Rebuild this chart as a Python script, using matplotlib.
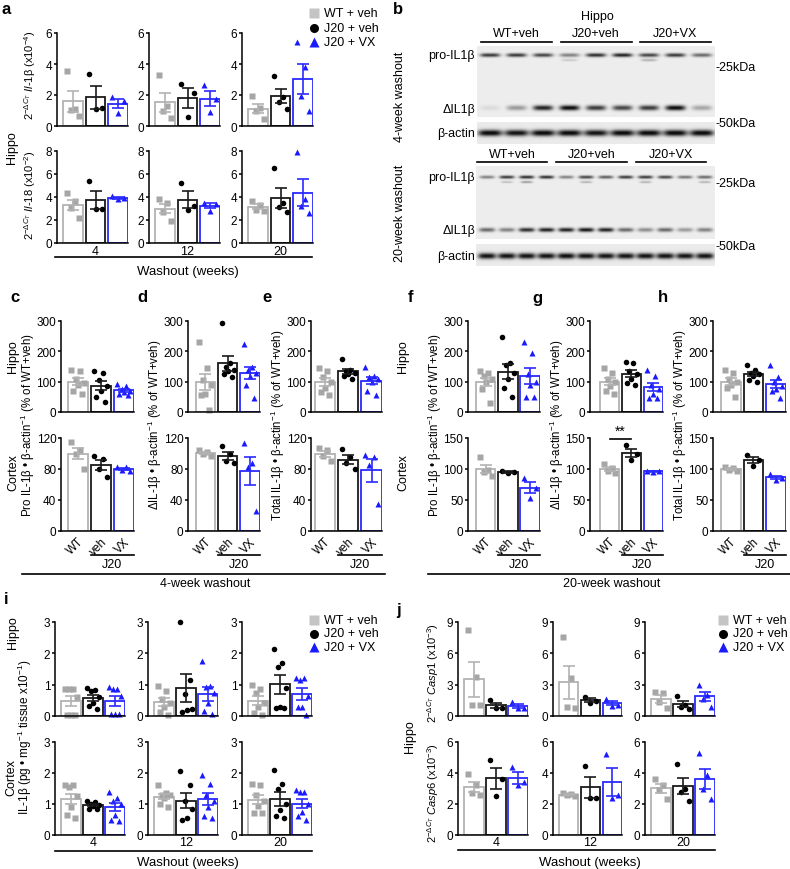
import numpy as np
import matplotlib
matplotlib.use("Agg")
import matplotlib.pyplot as plt
from matplotlib.lines import Line2D
import matplotlib.transforms as mtransforms

plt.rcParams['font.family'] = ['Liberation Sans', 'DejaVu Sans']
plt.rcParams['mathtext.fontset'] = 'custom'
plt.rcParams['mathtext.rm'] = 'Liberation Sans'
plt.rcParams['mathtext.it'] = 'Liberation Sans:italic'
plt.rcParams['mathtext.bf'] = 'Liberation Sans:bold'

W, H = 790, 870

GROUPS = ['WT + veh', 'J20 + veh', 'J20 + VX']
SHORT = ['WT', 'veh', 'VX']
WEEKS = ['4', '12', '20']
POINT_COLORS = ['#a6a6a6', '#000000', '#1a1aff']
EDGE_COLORS = ['#b3b3b3', '#1a1a1a', '#2a2aff']
MARKERS = ['s', 'o', '^']

# ---- panel a: qPCR hippo (4, 12, 20 weeks) ----
qpcr_il1b_wt = [[3.55, 1.1, 1.05, 0.65], [3.29, 1.28, 0.97, 0.54], [1.95, 1.15, 0.95, 0.45]]
qpcr_il1b_j20 = [[3.35, 1.15, 1.1], [2.7, 2.1, 0.6], [3.2, 1.85, 1.55, 1.1]]
qpcr_il1b_vx = [[1.84, 1.64, 0.87], [2.64, 1.75, 0.91], [5.4, 3.79, 1.95, 0.97]]
qpcr_il18_wt = [[4.35, 3.65, 3.05, 2.2], [3.85, 3.5, 2.7, 1.95], [3.65, 3.3, 2.9, 2.8]]
qpcr_il18_j20 = [[5.35, 3.0, 2.95], [5.2, 3.24, 2.86], [6.5, 3.5, 3.1, 2.7]]
qpcr_il18_vx = [[4.05, 3.9, 3.8], [3.5, 3.4, 2.8], [7.9, 3.8, 3.24, 2.57]]

# ---- panel b: western blot band intensities (0 = none, 1 = black) ----
blot4_pro = [0.75, 0.75, 0.7, 0.45, 0.8, 0.85, 0.7, 0.75, 0.55]
blot4_pro_low = [0, 0, 0, 0.15, 0, 0, 0.25, 0, 0]
blot4_delta = [0.08, 0.35, 0.85, 0.95, 0.75, 0.7, 0.75, 0.95, 0.3]
blot4_actin = [0.95, 0.9, 0.95, 0.95, 0.9, 0.95, 0.95, 0.95, 0.95]
blot20_pro = [0.45, 0.75, 0.8, 0.8, 0.45, 0.7, 0.6, 0.75, 0.75, 0.7, 0.5, 0.55]
blot20_pro_low = [0, 0.2, 0.35, 0, 0, 0.25, 0, 0, 0.25, 0, 0, 0.25]
blot20_delta = [0.55, 0.45, 0.8, 0.85, 0.85, 0.9, 0.85, 0.55, 0.4, 0.55, 0.35, 0.45]
blot20_actin = [0.9, 0.9, 0.9, 0.9, 0.92, 0.9, 0.9, 0.9, 0.9, 0.9, 0.9, 0.9]
blot_groups = ['WT+veh', 'J20+veh', 'J20+VX']

# ---- panels c-h: densitometry, % of WT+veh ----
pro4_hippo = [[140, 135, 110, 95, 90, 70, 60], [135, 130, 105, 85, 70, 50, 33], [92, 85, 75, 70, 65, 58, 55]]
pro4_cortex = [[115, 105, 100, 80], [97, 93, 80, 70], [83, 82, 79, 77]]
delta4_hippo = [[230, 145, 105, 90, 60, 55, 5], [295, 160, 150, 140, 135, 125, 115], [225, 150, 140, 130, 120, 90, 45]]
delta4_cortex = [[104, 102, 100, 97], [110, 100, 90, 88], [113, 88, 82, 26]]
total4_hippo = [[145, 135, 115, 100, 80, 65, 55], [175, 140, 135, 130, 125, 120, 110], [150, 120, 115, 110, 100, 70, 55]]
total4_cortex = [[107, 104, 97, 90], [106, 95, 88, 80], [98, 95, 85, 35]]
pro20_hippo = [[135, 128, 120, 110, 100, 75, 30], [248, 160, 155, 130, 110, 80, 49], [232, 195, 125, 100, 90, 50, 50]]
pro20_cortex = [[120, 98, 95, 88], [97, 95, 93], [86, 70, 54]]
delta20_hippo = [[145, 130, 110, 100, 85, 70, 60], [165, 160, 135, 125, 110, 95, 90], [140, 120, 90, 75, 60, 45, 45]]
delta20_cortex = [[108, 102, 96, 94], [138, 125, 115], [97, 96, 95]]
total20_hippo = [[140, 130, 110, 100, 90, 80, 50], [155, 140, 130, 125, 120, 105, 100], [155, 115, 100, 85, 75, 70, 45]]
total20_cortex = [[103, 101, 99, 96], [122, 115, 105], [92, 85, 82]]

# ---- panel i: ELISA IL-1b (x10^-1 pg/mg) ----
elisa_hippo_wt = [[0.87, 0.87, 0.85, 0.6, 0.02, 0.02, 0.02], [0.95, 0.8, 0.55, 0.4, 0.3, 0.12, 0.03], [1.0, 0.85, 0.75, 0.4, 0.3, 0.1, 0.02]]
elisa_hippo_j20 = [[0.88, 0.82, 0.8, 0.62, 0.4, 0.32, 0.22], [3.0, 1.15, 0.7, 0.22, 0.2, 0.12], [2.15, 1.7, 1.55, 0.9, 0.3, 0.25, 0.25]]
elisa_hippo_vx = [[0.92, 0.87, 0.85, 0.65, 0.06, 0.05, 0.05], [1.75, 0.97, 0.92, 0.75, 0.4, 0.15, 0.05], [1.22, 1.22, 1.15, 0.65, 0.3, 0.3, 0.02]]
elisa_cortex_wt = [[1.6, 1.6, 1.55, 1.25, 0.9, 0.65, 0.55], [1.6, 1.35, 1.3, 1.3, 1.2, 1.0, 0.9], [1.65, 1.6, 1.3, 1.1, 0.95, 0.7, 0.7]]
elisa_cortex_j20 = [[1.1, 1.05, 1.0, 0.97, 0.95, 0.85, 0.85], [2.05, 1.6, 1.1, 0.85, 0.55, 0.5], [2.1, 1.65, 1.5, 1.0, 0.8, 0.6, 0.55]]
elisa_cortex_vx = [[1.4, 1.2, 1.1, 1.0, 0.65, 0.5, 0.45], [1.95, 1.65, 1.3, 1.1, 0.9, 0.6, 0.55], [1.45, 1.4, 1.4, 1.0, 0.75, 0.6, 0.5]]

# ---- panel j: qPCR caspases ----
casp1_wt = [[8.2, 3.7, 1.1, 1.1], [7.6, 3.6, 0.9, 0.8], [2.3, 2.2, 1.3, 0.8]]
casp1_j20 = [[1.55, 0.8, 0.75], [1.85, 1.45, 1.2], [1.95, 1.1, 0.9, 0.7]]
casp1_vx = [[1.3, 0.8, 0.75], [1.6, 1.1, 0.95], [3.0, 2.05, 1.6, 0.9]]
casp6_wt = [[3.95, 3.2, 2.7, 2.55], [2.7, 2.65, 2.55, 2.5], [3.6, 3.25, 2.9, 2.3]]
casp6_j20 = [[4.85, 3.6, 2.5], [4.45, 2.4, 2.4], [4.6, 3.0, 2.8, 2.2]]
casp6_vx = [[4.4, 3.4, 3.2], [5.2, 2.6, 2.4], [5.3, 3.85, 3.0, 2.3]]


fig = plt.figure(figsize=(W / 100, H / 100), dpi=100)


def px_axes(x0, y0, x1, y1):
    return fig.add_axes([x0 / W, 1 - y1 / H, (x1 - x0) / W, (y1 - y0) / H])


def ftext(x, y, s, **kw):
    kw.setdefault('ha', 'center')
    kw.setdefault('va', 'center')
    fig.text(x / W, 1 - y / H, s, **kw)


def fline(x0, x1, y, lw=1.2):
    fig.add_artist(Line2D([x0 / W, x1 / W], [1 - y / H, 1 - y / H],
                          transform=fig.transFigure, color='black', lw=lw))


def spread(n):
    if n == 1:
        return np.zeros(1)
    offs = np.linspace(-0.27, 0.27, n)
    key = (np.arange(n) * 0.618) % 1
    return offs[np.argsort(np.argsort(key))]


def draw_bars(ax, groups, ylim, yticks, left=-0.72):
    for i, vals in enumerate(groups):
        vals = np.asarray(vals, float)
        m = vals.mean()
        sem = vals.std(ddof=1) / np.sqrt(len(vals))
        ax.bar(i, m, width=0.87, color='white', edgecolor=EDGE_COLORS[i], linewidth=1.3, zorder=1)
        ax.plot(i + spread(len(vals)), vals, ls='none', marker=MARKERS[i], ms=4.0,
                color=POINT_COLORS[i], mec='none', zorder=2, clip_on=False)
        ax.errorbar(i, m, yerr=sem, color=EDGE_COLORS[i], capsize=4, elinewidth=1.2,
                    capthick=1.2, zorder=3)
    ax.set_xlim(left, 2.45)
    ax.set_ylim(*ylim)
    ax.set_yticks(yticks)
    ax.patch.set_alpha(0)
    for s in ['top', 'right']:
        ax.spines[s].set_visible(False)
    for s in ['left', 'bottom']:
        ax.spines[s].set_linewidth(1.1)
    ax.tick_params(axis='y', direction='out', length=2.5, width=1.1, labelsize=8.5, pad=0.8)
    ax.tick_params(axis='x', length=0, labelsize=8.5)
    ax.set_xticks([])


def below(ax, x, y, s, **kw):
    trans = mtransforms.blended_transform_factory(ax.transData, ax.transAxes)
    ax.text(x, y, s, transform=trans, ha='center', va='center', clip_on=False, **kw)


def legend(x, y, step=13.5):
    for i, g in enumerate(GROUPS):
        col = '#c4c4c4' if i == 0 else POINT_COLORS[i]
        fig.add_artist(Line2D([x / W], [1 - (y + i * step) / H], transform=fig.transFigure,
                              marker=MARKERS[i], ms=6.5, color=col, mec='none', ls='none'))
        ftext(x + 10, y + i * step, g, ha='left', fontsize=9)


# ================= panel a =================
a_cols = [(57, 128), (149, 220), (242, 313)]
for k in range(3):
    x0, x1 = a_cols[k]
    ax = px_axes(x0, 34, x1, 127)
    draw_bars(ax, [qpcr_il1b_wt[k], qpcr_il1b_j20[k], qpcr_il1b_vx[k]], (0, 6), [0, 2, 4, 6])
    ax = px_axes(x0, 152, x1, 244)
    draw_bars(ax, [qpcr_il18_wt[k], qpcr_il18_j20[k], qpcr_il18_vx[k]], (0, 8), [0, 2, 4, 6, 8])
    below(ax, 1, -0.09, WEEKS[k], fontsize=9)
fline(55, 312, 258)
ftext(188, 272, 'Washout (weeks)', fontsize=9.5)
ftext(12, 148, 'Hippo', rotation=90, fontsize=9)
ftext(30, 75, r'2$^{-\Delta C_T}$ $\mathit{Il}$-$\mathit{1}$β (x10$^{-4}$)', rotation=90, fontsize=8)
ftext(30, 195, r'2$^{-\Delta C_T}$ $\mathit{Il}$-$\mathit{18}$ (x10$^{-2}$)', rotation=90, fontsize=8)
legend(314, 14, 14.5)

# ================= panel b (blot) =================
bx = px_axes(390, 0, 790, 280)
bx.set_xlim(390, 790)
bx.set_ylim(280, 0)
bx.axis('off')


def blot_strip(x0, x1, y0, y1, centers, bands, bg):
    xs = np.linspace(x0, x1, int((x1 - x0) * 3))
    ys = np.linspace(y0, y1, int((y1 - y0) * 3))
    X, Y = np.meshgrid(xs, ys)
    img = np.full(X.shape, bg)
    for yc, inten, hh, ww in bands:
        for xc, v in zip(centers, inten):
            img += v * np.exp(-((X - xc) / ww) ** 4) * np.exp(-((Y - yc) / hh) ** 2)
    bx.imshow(np.clip(img, 0, 1), cmap='gray_r', vmin=0, vmax=1.05,
              extent=(x0, x1, y1, y0), aspect='auto', interpolation='bilinear')


c4 = np.linspace(490, 702, len(blot4_pro))
c20 = np.linspace(487, 705, len(blot20_pro))
blot_strip(477, 715, 47, 118, c4, [(56, blot4_pro, 1.9, 10), (61, blot4_pro_low, 1.3, 8),
                                   (109, blot4_delta, 2.6, 10)], 0.07)
blot_strip(477, 715, 123, 145, c4, [(134, blot4_actin, 3.2, 12)], 0.085)
blot_strip(476, 715, 167, 240, c20, [(178, blot20_pro, 1.6, 7.5), (183, blot20_pro_low, 1.1, 6),
                                     (231, blot20_delta, 2.1, 8)], 0.07)
blot_strip(476, 715, 245, 267, c20, [(257, blot20_actin, 3.0, 9)], 0.085)

bx.text(597, 17, 'Hippo', ha='center', va='center', fontsize=9)
for g, name in enumerate(blot_groups):
    lo, hi = c4[3 * g] - 9, c4[3 * g + 2] + 9
    bx.plot([lo, hi], [43, 43], color='black', lw=1.2)
    bx.text((lo + hi) / 2, 34, name, ha='center', va='center', fontsize=9)
    lo, hi = c20[4 * g] - 10, c20[4 * g + 3] + 1
    bx.plot([lo, hi], [163, 163], color='black', lw=1.2)
    bx.text((lo + hi) / 2, 155, name, ha='center', va='center', fontsize=9)
for yy, s in [(56, 'pro-IL1β'), (110, 'ΔIL1β'), (134, 'β-actin'),
              (178, 'pro-IL1β'), (231, 'ΔIL1β'), (257, 'β-actin')]:
    bx.text(475, yy, s, ha='right', va='center', fontsize=9)
for yy, s in [(68, '-25kDa'), (124, '-50kDa'), (184, '-25kDa'), (247, '-50kDa')]:
    bx.text(716, yy, s, ha='left', va='center', fontsize=9)
bx.text(400, 97, '4-week washout', rotation=90, ha='center', va='center', fontsize=9)
bx.text(400, 213, '20-week washout', rotation=90, ha='center', va='center', fontsize=9)

# ================= panels c-h =================
wb_cols = [(61, 134), (188, 260), (311, 382), (468, 540), (590, 663), (713, 786)]
wb_left = [-0.72, -0.78, -0.6, -0.8, -0.9, -0.8]
wb_top = [pro4_hippo, delta4_hippo, total4_hippo, pro20_hippo, delta20_hippo, total20_hippo]
wb_bottom = [pro4_cortex, delta4_cortex, total4_cortex, pro20_cortex, delta20_cortex, total20_cortex]
wb_ylabels = ['Pro IL-1β • β-actin$^{-1}$ (% of WT+veh)', 'ΔIL-1β • β-actin$^{-1}$ (% of WT+veh)',
              'Total IL-1β • β-actin$^{-1}$ (% of WT+veh)'] * 2
for k in range(6):
    x0, x1 = wb_cols[k]
    ax = px_axes(x0, 322, x1, 413)
    draw_bars(ax, wb_top[k], (0, 300), [0, 100, 200, 300], left=wb_left[k])
    ax = px_axes(x0, 439, x1, 532)
    if k < 3:
        draw_bars(ax, wb_bottom[k], (0, 120), [0, 40, 80, 120], left=wb_left[k])
    else:
        draw_bars(ax, wb_bottom[k], (0, 150), [0, 50, 100, 150], left=wb_left[k])
    ax.set_xticks([0, 1, 2])
    ax.set_xticklabels(SHORT, rotation=45, ha='right', rotation_mode='anchor', fontsize=8.5)
    ax.tick_params(axis='x', pad=3)
    trans = mtransforms.blended_transform_factory(ax.transData, ax.transAxes)
    ax.plot([0.565, 2.45], [-0.26, -0.26], transform=trans, color='black', lw=1.2, clip_on=False)
    below(ax, 1.5, -0.36, 'J20', fontsize=9)
    ftext(x0 - 33, 425, wb_ylabels[k], rotation=90, fontsize=8.3)
    if k == 4:
        ax.plot([0, 1], [148, 148], color='black', lw=1.2, clip_on=False)
        ax.text(0.5, 150, '**', ha='center', va='bottom', fontsize=10, clip_on=False)

for x, y, s in [(13, 357, 'Hippo'), (13, 473, 'Cortex'), (403, 357, 'Hippo'), (403, 473, 'Cortex')]:
    ftext(x, y, s, rotation=90, fontsize=9)
fline(22, 385, 575)
ftext(205, 584, '4-week washout', fontsize=9)
fline(428, 790, 575)
ftext(612, 584, '20-week washout', fontsize=9)

# ================= panel i =================
i_cols = [(55, 125), (148, 218), (242, 312)]
for k in range(3):
    x0, x1 = i_cols[k]
    ax = px_axes(x0, 623, x1, 717)
    draw_bars(ax, [elisa_hippo_wt[k], elisa_hippo_j20[k], elisa_hippo_vx[k]], (0, 3), [0, 1, 2, 3])
    ax = px_axes(x0, 743, x1, 836)
    draw_bars(ax, [elisa_cortex_wt[k], elisa_cortex_j20[k], elisa_cortex_vx[k]], (0, 3), [0, 1, 2, 3])
    below(ax, 1, -0.08, WEEKS[k], fontsize=9)
fline(55, 312, 852)
ftext(188, 863, 'Washout (weeks)', fontsize=9.5)
ftext(13, 633, 'Hippo', rotation=90, fontsize=9)
ftext(11, 778, 'Cortex', rotation=90, fontsize=9)
ftext(25, 737, 'IL-1β (pg • mg$^{-1}$ tissue x10$^{-1}$)', rotation=90, fontsize=8.5)
legend(314, 621, 13.5)

# ================= panel j =================
j_cols = [(458, 528), (553, 622), (645, 715)]
for k in range(3):
    x0, x1 = j_cols[k]
    ax = px_axes(x0, 623, x1, 717)
    draw_bars(ax, [casp1_wt[k], casp1_j20[k], casp1_vx[k]], (0, 9), [0, 3, 6, 9])
    ax = px_axes(x0, 743, x1, 836)
    draw_bars(ax, [casp6_wt[k], casp6_j20[k], casp6_vx[k]], (0, 6), [0, 2, 4, 6])
    below(ax, 1, -0.08, WEEKS[k], fontsize=9)
fline(458, 715, 851)
ftext(590, 863, 'Washout (weeks)', fontsize=9.5)
ftext(410, 737, 'Hippo', rotation=90, fontsize=9)
ftext(433, 673, r'2$^{-\Delta C_T}$ $\mathit{Casp1}$ (x10$^{-3}$)', rotation=90, fontsize=8)
ftext(433, 793, r'2$^{-\Delta C_T}$ $\mathit{Casp6}$ (x10$^{-3}$)', rotation=90, fontsize=8)
legend(723, 621, 13.5)

# panel letters
for x, y, s in [(6, 9, 'a'), (398, 9, 'b'), (15, 298, 'c'), (142, 298, 'd'), (267, 298, 'e'),
                (410, 298, 'f'), (537, 298, 'g'), (663, 298, 'h'), (6, 600, 'i'), (398, 610, 'j')]:
    ftext(x, y, s, fontsize=12, fontweight='bold')

fig.savefig('out.png', dpi=100)
